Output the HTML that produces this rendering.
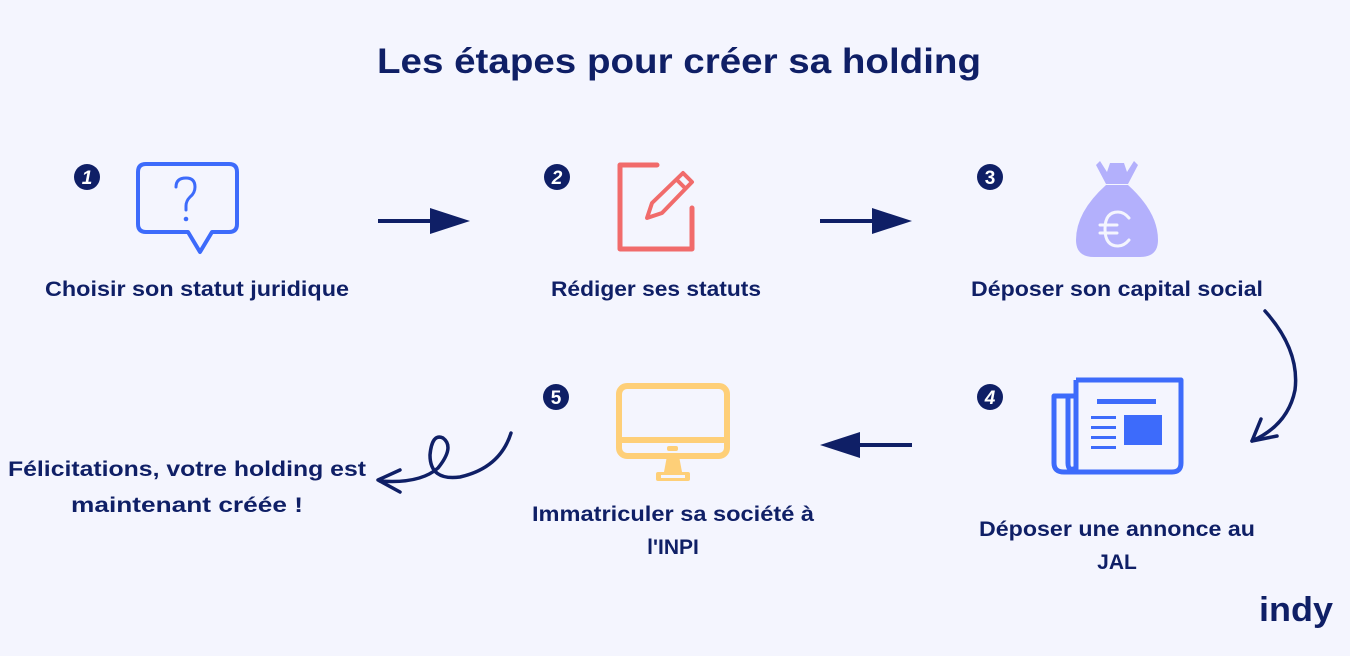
<!DOCTYPE html>
<html><head><meta charset="utf-8"><style>
html,body{margin:0;padding:0;background:#f4f5fe;}
svg{display:block}
text{font-family:"Liberation Sans",sans-serif;font-weight:bold;fill:#0f1f66}
</style></head><body>
<svg width="1350" height="656" viewBox="0 0 1350 656" xmlns="http://www.w3.org/2000/svg">
<rect width="1350" height="656" fill="#f4f5fe"/>
<text x="679" y="73" font-size="35" text-anchor="middle" textLength="604" lengthAdjust="spacingAndGlyphs">Les étapes pour créer sa holding</text>

<g font-size="19" text-anchor="middle">
<circle cx="87" cy="177" r="13" fill="#0f1f66"/><text x="87" y="184" style="fill:#fff;font-style:italic">1</text>
<circle cx="557" cy="177" r="13" fill="#0f1f66"/><text x="557" y="184" style="fill:#fff;font-style:italic">2</text>
<circle cx="990" cy="177" r="13" fill="#0f1f66"/><text x="990" y="184" style="fill:#fff">3</text>
<circle cx="990" cy="397" r="13" fill="#0f1f66"/><text x="990" y="404" style="fill:#fff;font-style:italic">4</text>
<circle cx="556" cy="397" r="13" fill="#0f1f66"/><text x="556" y="404" style="fill:#fff">5</text>
</g>

<path d="M146 164 H229 Q237 164 237 172 V224 Q237 232 229 232 H212 L200 252 L188 232 H146 Q138 232 138 224 V172 Q138 164 146 164 Z" fill="none" stroke="#3d6bfb" stroke-width="4" stroke-linejoin="round"/>
<path d="M176 187 Q176 178 186 178 Q195 178 195 187 Q195 193 190 197 Q186 201 186 206 V210" fill="none" stroke="#3d6bfb" stroke-width="3" stroke-linecap="round"/>
<circle cx="186" cy="219" r="2.3" fill="#3d6bfb"/>

<path d="M657 165 H620 V249 H692 V208" fill="none" stroke="#f16b6b" stroke-width="5" stroke-linecap="round" stroke-linejoin="round"/>
<path d="M683 173 L692 182 L662 213 L647 218 L652 203 Z M677 180 L686 189" fill="none" stroke="#f16b6b" stroke-width="4" stroke-linejoin="round"/>

<path d="M1100 161 L1107 172 L1110 163 L1124 163 L1127 172 L1134 161 L1138 165 L1128 184 L1106 184 L1096 165 Z" fill="#b3b0fc"/>
<path d="M1106 185 H1128 Q1158 212 1158 240 Q1158 257 1140 257 H1094 Q1076 257 1076 240 Q1076 212 1106 185 Z" fill="#b3b0fc"/>
<path d="M1129 218 Q1124 212 1118 212 Q1105 212 1105 229 Q1105 246 1118 246 Q1124 246 1129 240 M1100 225 H1117 M1100 233 H1117" fill="none" stroke="#f4f5fe" stroke-width="3" stroke-linecap="round"/>

<path d="M1076 380 H1181 V463 Q1181 472 1172 472 H1064 Q1054 472 1054 463 V396 H1076" fill="none" stroke="#3d6bfb" stroke-width="5" stroke-linejoin="round"/>
<path d="M1068 396 V463 Q1068 472 1076 468 V380" fill="none" stroke="#3d6bfb" stroke-width="5"/>
<rect x="1097" y="399" width="59" height="5" fill="#3d6bfb"/>
<rect x="1124" y="415" width="38" height="30" fill="#3d6bfb"/>
<rect x="1091" y="416" width="25" height="3" fill="#3d6bfb"/>
<rect x="1091" y="426" width="25" height="3" fill="#3d6bfb"/>
<rect x="1091" y="436" width="25" height="3" fill="#3d6bfb"/>
<rect x="1091" y="446" width="25" height="3" fill="#3d6bfb"/>

<rect x="619" y="386" width="108" height="70" rx="8" fill="none" stroke="#fecf78" stroke-width="6"/>
<line x1="620" y1="440" x2="726" y2="440" stroke="#fecf78" stroke-width="6"/>
<rect x="667" y="446" width="11" height="5" rx="2" fill="#fecf78"/>
<path d="M667 456 L664 472 H682 L679 456 Z" fill="#fecf78"/>
<rect x="656" y="472" width="34" height="9" rx="2" fill="#fecf78"/>
<rect x="661" y="475" width="24" height="3" fill="#f4f5fe"/>

<g fill="#0f1f66">
<rect x="378" y="219" width="55" height="4"/><path d="M430 208 L470 221 L430 234 Z"/>
<rect x="820" y="219" width="55" height="4"/><path d="M872 208 L912 221 L872 234 Z"/>
<rect x="857" y="443" width="55" height="4"/><path d="M860 432 L820 445 L860 458 Z"/>
</g>
<path d="M1265 311 Q1300 350 1295 390 Q1288 425 1252 441" fill="none" stroke="#0f1f66" stroke-width="3.5" stroke-linecap="round"/>
<path d="M1261 419 L1252 441 L1277 436" fill="none" stroke="#0f1f66" stroke-width="3.5" stroke-linecap="round" stroke-linejoin="round"/>
<path d="M511 433 Q500 468 460 477 Q430 481 430 455 Q432 433 443 438 Q455 447 438 468 Q420 484 380 481" fill="none" stroke="#0f1f66" stroke-width="3.5" stroke-linecap="round"/>
<path d="M400 470 L378 480 L400 492" fill="none" stroke="#0f1f66" stroke-width="3.5" stroke-linecap="round" stroke-linejoin="round"/>

<g font-size="21" text-anchor="middle">
<text x="197" y="296" textLength="304" lengthAdjust="spacingAndGlyphs">Choisir son statut juridique</text>
<text x="656" y="296" textLength="210" lengthAdjust="spacingAndGlyphs">Rédiger ses statuts</text>
<text x="1117" y="296" textLength="292" lengthAdjust="spacingAndGlyphs">Déposer son capital social</text>
<text x="1117" y="536" textLength="276" lengthAdjust="spacingAndGlyphs">Déposer une annonce au</text>
<text x="1117" y="569">JAL</text>
<text x="673" y="521" textLength="282" lengthAdjust="spacingAndGlyphs">Immatriculer sa société à</text>
<text x="673" y="554">l'INPI</text>
<text x="187" y="476" textLength="358" lengthAdjust="spacingAndGlyphs">Félicitations, votre holding est</text>
<text x="187" y="512" textLength="232" lengthAdjust="spacingAndGlyphs">maintenant créée !</text>
</g>
<text x="1296" y="621" font-size="34" text-anchor="middle" textLength="74" lengthAdjust="spacingAndGlyphs">indy</text>
</svg>
</body></html>
